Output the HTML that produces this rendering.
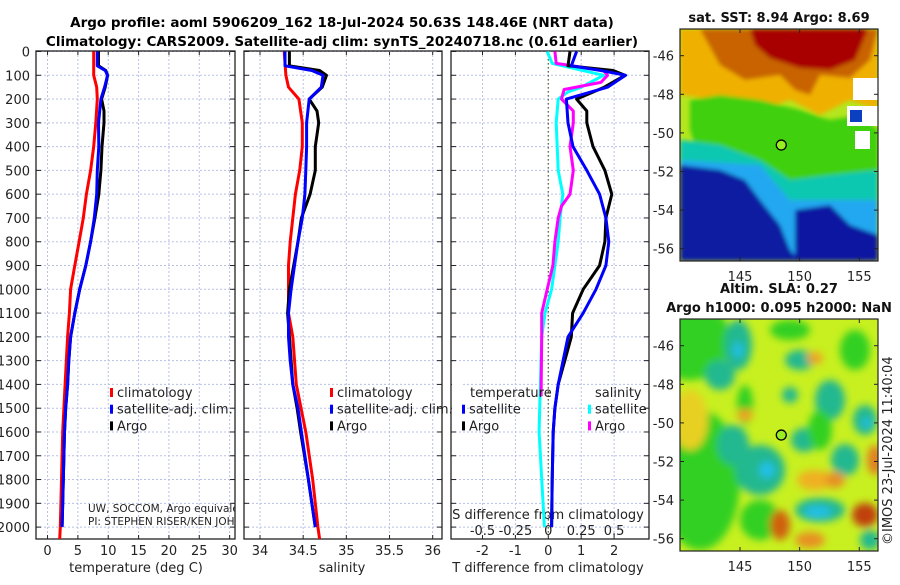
<!DOCTYPE html>
<html><head><meta charset="utf-8">
<style>
body{margin:0;background:#fff;width:900px;height:580px;overflow:hidden;font-family:"Liberation Sans","DejaVu Sans",sans-serif}
svg text{font-family:"DejaVu Sans","Liberation Sans",sans-serif}
</style></head><body>
<svg id="chart" width="900" height="580" xmlns="http://www.w3.org/2000/svg">
<defs>
<filter id="bl" x="-10%" y="-10%" width="120%" height="120%"><feGaussianBlur stdDeviation="4"/></filter>
<filter id="bl2"><feGaussianBlur stdDeviation="2"/></filter>
<clipPath id="c1"><rect x="36" y="51" width="199" height="488"/></clipPath>
<clipPath id="c2"><rect x="244" y="51" width="198" height="488"/></clipPath>
<clipPath id="c3"><rect x="451" y="51" width="198" height="488"/></clipPath>
<clipPath id="m1"><rect x="680" y="29" width="198" height="232"/></clipPath>
<clipPath id="m2"><rect x="680" y="319" width="198" height="232"/></clipPath>
</defs>
<text x="342" y="27" text-anchor="middle" font-size="13.5" font-weight="bold">Argo profile: aoml 5906209_162 18-Jul-2024 50.63S 148.46E (NRT data)</text>
<text x="342" y="46" text-anchor="middle" font-size="13.5" font-weight="bold">Climatology: CARS2009. Satellite-adj clim: synTS_20240718.nc (0.61d earlier)</text>
<g id="g"></g>
<g id="maps"></g>
</svg>
<script>
// ---- data ----
const depthTicks=[0,100,200,300,400,500,600,700,800,900,1000,1100,1200,1300,1400,1500,1600,1700,1800,1900,2000];
const tempTicks=[0,5,10,15,20,25,30];
const salTicks=[34,34.5,35,35.5,36];
const salTickLabels=["34","34.5","35","35.5","36"];
const dTTicks=[-2,-1,0,1,2];
const dSTicks=[-0.5,-0.25,0,0.25,0.5];
const dSTickLabels=["-0.5","-0.25","0","0.25","0.5"];
const argoDepth=[0,60,80,100,150,200,250,300,400,500,600,700,800,900,1000,1100,1200,1300,1400,1500,1600,1800,2000];
const argoTemp=[8.4,8.4,9.6,9.9,9.5,8.9,9.3,9.3,8.98,8.8,8.45,7.8,7.1,6.3,5.3,4.5,3.8,3.5,3.3,3.0,2.8,2.6,2.4];
const satDepth=[0,60,80,100,150,200,300,400,500,600,700,800,900,1000,1100,1200,1300,1400,1500,1600,1800,2000];
const satTemp=[8.2,8.2,9.5,9.9,9.4,8.8,8.4,8.45,8.2,8.1,7.7,7.1,6.3,5.3,4.5,3.8,3.5,3.3,3.0,2.8,2.6,2.4];
const climDepth=[0,100,150,200,300,400,500,600,700,800,900,1000,1100,1200,1400,1600,1800,2000,2050];
const climTemp=[7.6,7.6,8.1,8.2,7.95,7.6,7.1,6.4,5.9,5.2,4.5,3.8,3.6,3.3,2.9,2.5,2.3,2.1,2.0];
const argoSal=[34.34,34.34,34.69,34.77,34.72,34.57,34.66,34.68,34.64,34.64,34.58,34.48,34.44,34.39,34.34,34.32,34.34,34.36,34.38,34.43,34.47,34.56,34.64];
const satSal=[34.29,34.29,34.60,34.73,34.71,34.57,34.54,34.54,34.53,34.52,34.49,34.44,34.40,34.36,34.33,34.33,34.35,34.38,34.44,34.48,34.56,34.64];
const climSal=[34.28,34.30,34.33,34.45,34.49,34.49,34.46,34.41,34.38,34.35,34.33,34.33,34.33,34.38,34.42,34.53,34.61,34.67,34.69];
const argoDT=[0.66,0.6,1.97,2.33,1.7,0.86,1.17,1.17,1.36,1.72,1.93,1.75,1.72,1.56,1.06,0.74,0.7,0.5,0.3,0.2,0.15,0.12,0.1];
const satDT=[0.86,0.7,1.6,2.35,1.8,0.55,0.6,0.75,1.17,1.56,1.75,1.84,1.75,1.45,1.06,0.6,0.45,0.3,0.2,0.15,0.12,0.1];
const satDSDepth=[0,50,100,150,170,200,300,500,600,700,800,900,1000,1100,1200,1500,1600,2000];
const satDS=[-0.008,0.03,0.42,0.25,0.15,0.075,0.06,0.075,0.11,0.09,0.075,0.05,0.025,-0.025,-0.05,-0.065,-0.07,-0.03];
const argoDSDepth=[0,50,80,100,130,160,200,250,300,400,500,600,650,700,800,900,1000,1100,1200,1450];
const argoDS=[0.05,0.06,0.42,0.45,0.4,0.12,0.1,0.19,0.19,0.165,0.19,0.165,0.1,0.075,0.05,0.035,-0.008,-0.05,-0.05,-0.055];

// ---- scales ----
const Y=d=>51.5+d*0.2378;
const XT=t=>36+(t+1.9)*6.07;
const XS=s=>260+(s-34)*86.35;
const XD=t=>548.3+t*32.9;
const XDS=s=>548.3+s*4*32.9;
const NS="http://www.w3.org/2000/svg";
const g=document.getElementById('g');
function el(tag,attrs,parent){const e=document.createElementNS(NS,tag);for(const k in attrs)e.setAttribute(k,attrs[k]);(parent||g).appendChild(e);return e;}
function txt(x,y,s,attrs,parent){const e=el('text',Object.assign({x:x,y:y,'font-size':13,fill:'#222'},attrs||{}),parent);e.textContent=s;return e;}

const panels=[{x0:36,x1:235,clip:'c1',name:'temperature'},{x0:244,x1:442,clip:'c2',name:'salinity'},{x0:451,x1:649,clip:'c3',name:'difference'}];
panels.forEach((p,i)=>{
  const pg=el('g',{});
  
  
  let xs;
  if(i==0){xs=tempTicks.map(XT);} else if(i==1){xs=salTicks.map(XS);} else {xs=dTTicks.map(XD);}
  xs.forEach(x=>{el('line',{x1:x,x2:x,y1:51,y2:539,stroke:'#b8c0e8','stroke-width':1,'stroke-dasharray':'2,2'},pg);
    el('line',{x1:x,x2:x,y1:539,y2:535,stroke:'#222'},pg);el('line',{x1:x,x2:x,y1:51,y2:55,stroke:'#222'},pg);});
  depthTicks.forEach(d=>{const y=Y(d);el('line',{x1:p.x0,x2:p.x1,y1:y,y2:y,stroke:'#b8c0e8','stroke-width':1,'stroke-dasharray':'2,2'},pg);
    el('line',{x1:p.x0,x2:p.x0+5,y1:y,y2:y,stroke:'#222'},pg);el('line',{x1:p.x1-5,x2:p.x1,y1:y,y2:y,stroke:'#222'},pg);});
  el('rect',{x:p.x0,y:51,width:p.x1-p.x0,height:488,fill:'none',stroke:'#222','stroke-width':1.3},pg);
});
depthTicks.forEach(d=>{const t=txt(30,Y(d)+5,String(d),{'text-anchor':'end'});});
tempTicks.forEach(v=>{const t=txt(XT(v),555,String(v),{'text-anchor':'middle'});});
salTicks.forEach((v,i)=>{const t=txt(XS(v),555,salTickLabels[i],{'text-anchor':'middle'});});
dTTicks.forEach(v=>{const t=txt(XD(v),555,String(v),{'text-anchor':'middle'});});
dSTicks.forEach((v,i)=>{const t=txt(XDS(v),535,dSTickLabels[i],{'text-anchor':'middle'});});
let a=txt(136,572,'temperature (deg C)',{'text-anchor':'middle'});
a=txt(342,572,'salinity',{'text-anchor':'middle'});
a=txt(548,572,'T difference from climatology',{'text-anchor':'middle'});
a=txt(548,519,'S difference from climatology',{'text-anchor':'middle'});
el('line',{x1:XD(0),x2:XD(0),y1:51,y2:539,stroke:'#556633','stroke-dasharray':'1.5,2.5','stroke-width':1.2});

function line(depths,vals,xf,color,clip,name){
  const pts=depths.map((d,i)=>xf(vals[i]).toFixed(1)+','+Y(d).toFixed(1)).join(' ');
  const e=el('polyline',{points:pts,fill:'none',stroke:color,'stroke-width':3,'stroke-linejoin':'round','clip-path':'url(#'+clip+')'});
  
  
}
line(climDepth,climTemp,XT,'#ff0000','c1','temp-climatology-line');
line(argoDepth,argoTemp,XT,'#000000','c1','temp-argo-line');
line(satDepth,satTemp,XT,'#0000ff','c1','temp-satellite-line');
line(climDepth,climSal,XS,'#ff0000','c2','sal-climatology-line');
line(argoDepth,argoSal,XS,'#000000','c2','sal-argo-line');
line(satDepth,satSal,XS,'#0000ff','c2','sal-satellite-line');
line(satDSDepth,satDS,XDS,'#00ffff','c3','s-diff-satellite-line');
line(argoDSDepth,argoDS,XDS,'#ff00ff','c3','s-diff-argo-line');
line(argoDepth,argoDT,XD,'#000000','c3','t-diff-argo-line');
line(satDepth,satDT,XD,'#0000ff','c3','t-diff-satellite-line');

function legend(x,y,items,name){
  items.forEach((it,i)=>{
    if(it[1]) el('rect',{x:x,y:y+i*16.7-9,width:3,height:9,fill:it[1]});
    const t=txt(x+7,y+i*16.7,it[0],{'font-size':13});
    
    
  });
}
legend(110,397,[['climatology','#ff0000'],['satellite-adj. clim.','#0000ff'],['Argo','#000000']],'temp-legend');
legend(330,397,[['climatology','#ff0000'],['satellite-adj. clim.','#0000ff'],['Argo','#000000']],'sal-legend');
el('rect',{x:452,y:380,width:10,height:50,fill:'#fff'});
txt(470,397,'temperature',{'font-size':13});
legend(462,413.7,[['satellite','#0000ff'],['Argo','#000000']],'tdiff-legend');
txt(595,397,'salinity',{'font-size':13});
legend(588,413.7,[['satellite','#00ffff'],['Argo','#ff00ff']],'sdiff-legend');
const cg=el('g',{'clip-path':'url(#c1)'});
a=txt(88,512,'UW, SOCCOM, Argo equivalent',{'font-size':10.5},cg);
a=txt(88,525,'PI: STEPHEN RISER/KEN JOHNSON',{'font-size':10.5},cg);

// ---- maps ----
const lonTicks=[145,150,155];
const latTicks=[-46,-48,-50,-52,-54,-56];
const mg=document.getElementById('maps');
function mapFrame(top,title,title2,clip,name,draw){
  const LX=lon=>740+(lon-145)*11.93;
  const LY=lat=>top+26.7+(-46-lat)*19.3;
  const grp=el('g',{},mg);
  
  
  const inner=el('g',{'clip-path':'url(#'+clip+')'},grp);
  draw(inner);
  el('circle',{cx:LX(148.46),cy:LY(-50.63),r:5,fill:'#99ee22',stroke:'#000','stroke-width':1.3},grp);
  el('rect',{x:680,y:top,width:198,height:232,fill:'none',stroke:'#222','stroke-width':1.2},grp);
  lonTicks.forEach(l=>{const x=LX(l);el('line',{x1:x,x2:x,y1:top+232,y2:top+228,stroke:'#222'},grp);el('line',{x1:x,x2:x,y1:top,y2:top+4,stroke:'#222'},grp);txt(x,top+252,String(l),{'text-anchor':'middle'},grp);});
  latTicks.forEach(l=>{const y=LY(l);el('line',{x1:680,x2:684,y1:y,y2:y,stroke:'#222'},grp);el('line',{x1:874,x2:878,y1:y,y2:y,stroke:'#222'},grp);txt(674,y+5,String(l),{'text-anchor':'end'},grp);});
  txt(779,top-7,title,{'text-anchor':'middle','font-weight':'bold','fill':'#111'},grp);
  if(title2) txt(779,top-26,title2,{'text-anchor':'middle','font-weight':'bold','fill':'#111'},grp);
}
mapFrame(29,'sat. SST: 8.94 Argo: 8.69',null,'m1','sst-map',inner=>{
  el('rect',{x:680,y:29,width:198,height:232,fill:'#b4e61e'},inner);
  const b=el('g',{filter:'url(#bl2)'},inner);
  el('polygon',{points:'680,29 878,29 878,110 850,100 820,115 790,100 760,110 720,100 680,95',fill:'#f0b000'},b);
  el('polygon',{points:'700,29 878,29 870,60 850,78 820,75 810,95 795,90 780,75 745,80 720,65',fill:'#c86400'},b);
  el('polygon',{points:'750,29 868,29 855,60 830,70 800,68 770,58 755,45',fill:'#a80000'},b);
  el('polygon',{points:'690,100 720,95 760,100 800,110 830,120 860,115 878,130 878,200 820,200 760,170 700,160 690,130',fill:'#40d010'},b);
  el('polygon',{points:'680,140 720,145 760,160 790,180 830,175 878,170 878,261 680,261',fill:'#10c8b0'},b);
  el('polygon',{points:'680,160 760,165 790,200 878,200 878,261 680,261',fill:'#20a8f0'},b);
  el('polygon',{points:'680,165 720,170 745,180 760,200 780,225 790,250 800,261 680,261',fill:'#0a1aa0'},b);
  el('polygon',{points:'795,210 830,205 850,225 878,235 878,261 795,261',fill:'#0818a0'},b);
  el('rect',{x:847,y:106,width:31,height:20,fill:'#fff'},inner);
  el('rect',{x:853,y:78,width:25,height:22,fill:'#fff'},inner);
  el('rect',{x:855,y:131,width:15,height:18,fill:'#fff'},inner);
  el('rect',{x:850,y:110,width:12,height:12,fill:'#0a40c0'},inner);
});
mapFrame(319,'Argo h1000: 0.095 h2000: NaN','Altim. SLA: 0.27','m2','sla-map',inner=>{
  el('rect',{x:680,y:319,width:198,height:232,fill:'#c8f020'},inner);
  const b=el('g',{filter:'url(#bl)'},inner);
  const blobs=[[690,340,40,40,'#30d020'],[700,480,40,70,'#30d020'],[690,420,18,30,'#e8d020'],
    [738,345,14,25,'#20b890'],[720,375,15,15,'#20b890'],[733,445,16,20,'#20b890'],[760,470,25,25,'#20b890'],
    [790,395,8,8,'#20b890'],[804,440,13,12,'#20b890'],[800,360,15,10,'#20b890'],[830,400,15,20,'#20b890'],
    [845,460,14,16,'#20b890'],[865,420,12,15,'#20b890'],[820,510,25,12,'#20b890'],[700,520,25,25,'#30d020'],
    [760,520,20,20,'#30d020'],[855,350,15,20,'#30d020'],[870,540,10,10,'#20b890'],[745,405,8,20,'#30d020'],
    [790,330,20,10,'#30d020'],[820,430,12,20,'#30d020']];
  blobs.forEach(q=>el('ellipse',{cx:q[0],cy:q[1],rx:q[2],ry:q[3],fill:q[4]},b));
  const hot=[[745,415,8,6,'#f0a020'],[780,525,10,15,'#d06010'],[810,540,15,8,'#e89020'],[865,515,13,12,'#c04010'],
    [875,460,8,15,'#e08020'],[815,480,18,10,'#f0b020'],[835,480,10,8,'#e89020'],[815,358,8,6,'#f0a020']];
  hot.forEach(q=>el('ellipse',{cx:q[0],cy:q[1],rx:q[2],ry:q[3],fill:q[4]},b));
  [[738,350,5,8],[767,470,8,8],[818,512,14,6],[867,423,5,5]].forEach(q=>el('ellipse',{cx:q[0],cy:q[1],rx:q[2],ry:q[3],fill:'#20c0e8'},b));
});
const cp=txt(0,0,'©IMOS 23-Jul-2024 11:40:04',{'font-size':13,transform:'translate(892,545) rotate(-90)'},mg);


</script>
</body></html>
